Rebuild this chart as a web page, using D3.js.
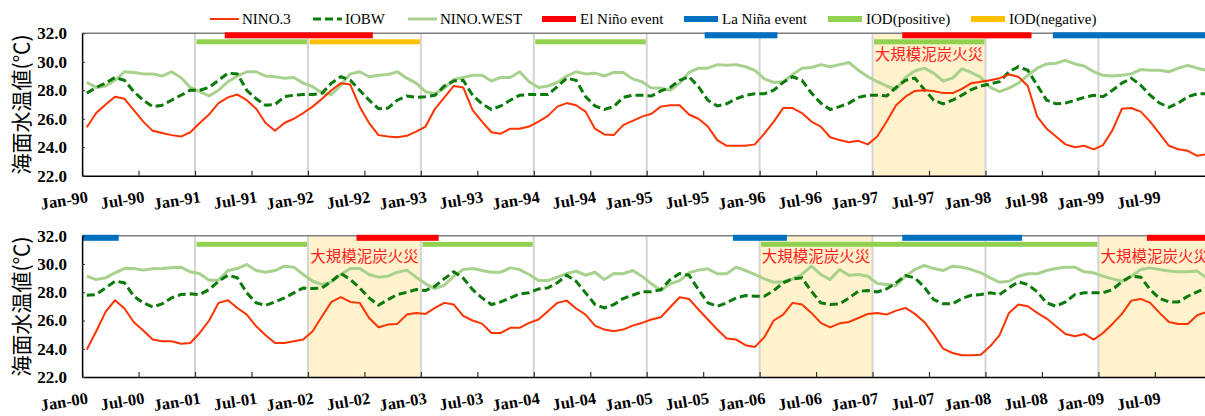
<!DOCTYPE html>
<html>
<head>
<meta charset="utf-8">
<script src="https://cdn.jsdelivr.net/npm/d3@7"></script>
<style>
  body { margin: 0; background: #fff; }
  svg { display: block; }
</style>
</head>
<body>
<div id="chart"></div>
<script>
// data //
// monthly SST, Jan-90 .. Dec-99
const nino3_90 = [
  25.4, 26.4, 27.0, 27.55, 27.4, 26.6, 25.8, 25.15, 25.0, 24.85, 24.75, 25.05,
  25.7, 26.3, 27.1, 27.5, 27.7, 27.3, 26.7, 25.7, 25.15, 25.7, 26.0, 26.4,
  26.85, 27.4, 28.0, 28.5, 28.4, 26.85, 25.7, 24.85, 24.75, 24.7, 24.8, 25.1,
  25.45, 26.7, 27.5, 28.3, 28.2, 26.6, 25.8, 25.05, 24.95, 25.3, 25.3, 25.45,
  25.8, 26.2, 26.85, 27.1, 26.95, 26.5, 25.3, 24.9, 24.85, 25.55, 25.85, 26.15,
  26.35, 26.85, 26.95, 26.95, 26.3, 26.0, 25.45, 24.5, 24.1, 24.1, 24.1, 24.2,
  24.95, 25.8, 26.75, 26.75, 26.4, 25.8, 25.45, 24.7, 24.5, 24.35, 24.45, 24.2,
  24.75, 25.8, 26.95, 27.55, 27.95, 28.0, 27.95, 27.8, 27.8, 28.1, 28.5, 28.6,
  28.7, 28.85, 29.1, 28.95, 28.3, 26.15, 25.3, 24.75, 24.2, 24.0, 24.1, 23.85,
  24.15, 25.2, 26.7, 26.75, 26.5, 25.8, 24.95, 24.1, 23.85, 23.75, 23.4, 23.5
];
const iobw_90 = [
  27.8, 28.2, 28.5, 28.9, 28.7, 27.9, 27.3, 26.85, 26.95, 27.3, 27.65, 28.0,
  28.0, 28.2, 28.7, 29.2, 29.15, 28.0, 27.4, 26.95, 27.0, 27.55, 27.65, 27.7,
  27.7, 27.8, 28.5, 28.95, 28.7, 28.0, 27.3, 26.7, 26.75, 27.3, 27.6, 27.5,
  27.55, 27.65, 28.3, 28.65, 28.7, 27.65, 27.05, 26.65, 26.9, 27.3, 27.65, 27.7,
  27.7, 27.7, 28.25, 28.85, 28.7, 27.55, 26.9, 26.65, 26.85, 27.5, 27.65, 27.65,
  27.6, 27.95, 28.2, 28.7, 28.95, 28.25, 27.3, 26.9, 27.05, 27.4, 27.65, 27.75,
  27.75, 28.0, 28.55, 28.95, 28.7, 27.8, 27.1, 26.65, 26.85, 27.1, 27.5, 27.65,
  27.65, 27.6, 28.2, 28.7, 28.85, 28.05, 27.3, 27.05, 27.3, 27.65, 28.05, 28.3,
  28.45, 28.6, 29.3, 29.65, 29.4, 28.35, 27.3, 27.05, 27.1, 27.3, 27.5, 27.65,
  27.55, 28.0, 28.5, 28.85, 28.35, 27.65, 27.1, 26.8, 27.1, 27.55, 27.75, 27.75
];
const ninoWest_90 = [
  28.55, 28.2, 28.3, 28.7, 29.3, 29.25, 29.15, 29.15, 29.0, 29.3, 28.9, 28.2,
  27.9, 27.6, 28.0, 28.6, 29.0, 29.3, 29.3, 29.0, 28.95, 28.85, 28.9, 28.5,
  28.25, 27.8, 27.7, 28.35, 29.15, 29.3, 28.95, 29.05, 29.1, 29.3, 28.85, 28.5,
  27.9, 27.75, 28.15, 28.75, 28.9, 29.05, 29.05, 28.65, 28.9, 28.9, 29.3, 28.6,
  28.2, 28.3, 28.55, 29.0, 29.3, 29.15, 29.2, 29.0, 29.25, 29.25, 28.8, 28.6,
  28.15, 28.15, 28.0, 28.5, 29.25, 29.55, 29.55, 29.8, 29.75, 29.8, 29.65, 29.4,
  28.8, 28.55, 28.6, 29.1, 29.55, 29.6, 29.8, 29.65, 29.8, 29.95, 29.4, 28.95,
  28.6, 28.3, 28.05, 28.9, 29.35, 29.55, 29.2, 28.65, 28.85, 29.5, 29.25, 28.9,
  28.2, 27.9, 28.15, 28.5, 29.05, 29.55, 29.85, 29.9, 30.1, 29.85, 29.7, 29.3,
  29.05, 29.0, 29.05, 29.15, 29.45, 29.4, 29.4, 29.3, 29.55, 29.75, 29.55, 29.4
];

// monthly SST, Jan-00 .. Dec-09
const nino3_00 = [
  23.94, 25.24, 26.61, 27.44, 26.85, 25.88, 25.29, 24.65, 24.53, 24.53, 24.36, 24.41,
  25.12, 26.0, 27.25, 27.44, 26.89, 26.42, 25.59, 24.96, 24.41, 24.41, 24.53, 24.65,
  25.24, 26.3, 27.32, 27.65, 27.32, 27.25, 26.18, 25.52, 25.71, 25.76, 26.42, 26.54,
  26.47, 26.89, 27.25, 27.13, 26.33, 26.0, 25.78, 25.12, 25.12, 25.48, 25.48, 25.83,
  26.07, 26.66, 27.25, 27.41, 26.85, 26.42, 25.64, 25.36, 25.24, 25.36, 25.64, 25.83,
  26.07, 26.23, 26.94, 27.65, 27.53, 26.78, 26.07, 25.36, 24.72, 24.65, 24.25, 24.13,
  24.81, 26.0, 26.42, 27.25, 27.13, 26.54, 25.83, 25.52, 25.8, 25.9, 26.18, 26.47,
  26.54, 26.42, 26.7, 26.89, 26.47, 25.9, 25.0, 24.01, 23.7, 23.54, 23.54, 23.58,
  24.17, 24.96, 26.54, 27.13, 27.01, 26.54, 26.14, 25.59, 25.05, 24.88, 25.05, 24.65,
  25.12, 25.76, 26.47, 27.41, 27.53, 27.25, 26.54, 25.9, 25.76, 25.76, 26.37, 26.61
];
const iobw_00 = [
  27.79, 27.84, 28.31, 28.78, 28.67, 27.72, 27.25, 26.96, 27.18, 27.6, 27.84, 27.89,
  27.84, 28.19, 28.78, 29.21, 29.02, 27.96, 27.25, 27.08, 27.32, 27.6, 27.96, 28.31,
  28.26, 28.31, 28.78, 29.33, 28.9, 28.31, 27.6, 27.08, 27.48, 27.84, 28.0, 28.19,
  28.12, 28.43, 28.97, 29.45, 29.0, 28.19, 27.6, 27.13, 27.32, 27.6, 27.89, 27.96,
  28.24, 28.31, 28.67, 29.21, 28.78, 27.96, 27.13, 26.89, 27.13, 27.56, 27.79, 28.03,
  28.03, 28.19, 28.9, 29.33, 29.21, 28.19, 27.25, 27.01, 27.25, 27.6, 27.77, 27.72,
  27.72, 28.12, 28.67, 28.95, 29.02, 28.08, 27.25, 27.13, 27.18, 27.6, 28.08, 28.12,
  28.03, 28.24, 28.67, 29.18, 29.02, 28.36, 27.48, 27.18, 27.18, 27.56, 27.79, 27.84,
  27.96, 27.84, 28.31, 28.74, 28.55, 28.03, 27.25, 27.01, 27.32, 27.84, 27.96, 27.96,
  27.96, 28.19, 28.74, 29.14, 29.07, 28.19, 27.56, 27.32, 27.32, 27.72, 28.03, 28.31
];
const ninoWest_00 = [
  29.14, 28.9, 29.02, 29.38, 29.68, 29.68, 29.57, 29.66, 29.68, 29.73, 29.78, 29.45,
  29.31, 28.86, 28.86, 29.54, 29.68, 29.97, 29.54, 29.42, 29.54, 29.85, 29.78, 29.26,
  28.78, 28.55, 28.74, 29.26, 29.68, 29.68, 29.26, 29.07, 29.14, 29.42, 29.57, 29.07,
  28.6, 28.26, 28.5, 29.14, 29.61, 29.68, 29.54, 29.42, 29.42, 29.73, 29.61, 29.26,
  28.83, 28.83, 29.07, 29.31, 29.5, 29.21, 29.42, 28.9, 29.33, 29.31, 29.54, 29.14,
  28.6, 28.12, 28.6, 28.83, 29.38, 29.57, 29.66, 29.31, 29.31, 29.78, 29.54, 29.26,
  28.95, 28.71, 28.74, 28.95, 29.26, 29.85, 29.26, 28.9, 29.61, 29.21, 29.26, 29.14,
  28.62, 28.55, 28.48, 29.14, 29.61, 29.9, 29.68, 29.54, 29.85, 29.78, 29.61, 29.38,
  29.02, 28.71, 28.78, 29.14, 29.31, 29.31, 29.54, 29.68, 29.78, 29.78, 29.45, 29.38,
  29.14, 28.95, 28.78, 29.14, 29.61, 29.73, 29.61, 29.5, 29.45, 29.45, 29.5, 29.02
];

// events: [start month, end month] counted from Jan of the decade
const elNino_90 = [[15, 31], [87, 101]];
const laNina_90 = [[66, 74], [103, 120]];
const iodPos_90 = [[12, 24], [48, 60], [84, 96]];
const iodNeg_90 = [[24, 36]];
const fire_90 = [[84, 96]];

const elNino_00 = [[29, 38], [113, 120]];
const laNina_00 = [[0, 4], [69, 75], [87, 100]];
const iodPos_00 = [[12, 24], [36, 48], [72, 108]];
const iodNeg_00 = [];
const fire_00 = [[24, 36], [72, 84], [108, 120]];

const xLabels_90 = ["Jan-90","Jul-90","Jan-91","Jul-91","Jan-92","Jul-92","Jan-93","Jul-93","Jan-94","Jul-94",
  "Jan-95","Jul-95","Jan-96","Jul-96","Jan-97","Jul-97","Jan-98","Jul-98","Jan-99","Jul-99"];
const xLabels_00 = ["Jan-00","Jul-00","Jan-01","Jul-01","Jan-02","Jul-02","Jan-03","Jul-03","Jan-04","Jul-04",
  "Jan-05","Jul-05","Jan-06","Jul-06","Jan-07","Jul-07","Jan-08","Jul-08","Jan-09","Jul-09"];
const yTicks = [22, 24, 26, 28, 30, 32];

const seriesNames = ["NINO.3", "IOBW", "NINO.WEST"];
const eventNames = ["El Niño event", "La Niña event", "IOD(positive)", "IOD(negative)"];
const fireLabel = "大規模泥炭火災";
const yTitle = "海面水温値(℃)";

// colours
const cNino3 = "#FF3300";
const cIobw = "#0A7A0A";
const cWest = "#A9D18E";
const cElNino = "#FF0000";
const cLaNina = "#0070C0";
const cIodPos = "#92D050";
const cIodNeg = "#FFC000";
const cFire = "#FFF2CC";

///set dimensions//////////////////////////////////////////////////
const W = 1205, H = 416;
const left = 82.1;
const right = left + 120 * 9.41;

const svg = d3.select("#chart").append("svg")
  .attr("width", W)
  .attr("height", H);

const x = d3.scaleLinear().domain([0, 120]).range([left, right]);

function drawPanel(top, bottom, d) {
  const y = d3.scaleLinear().domain([22, 32]).range([bottom, top]);
  const g = svg.append("g");

  // peat fire shading
  g.selectAll(".fire")
    .data(d.fire)
    .enter().append("rect")
    .attr("x", e => x(e[0]))
    .attr("y", top)
    .attr("width", e => x(e[1]) - x(e[0]))
    .attr("height", bottom - top)
    .attr("fill", cFire);

  // yearly gridlines
  g.selectAll(".grid")
    .data(d3.range(12, 120, 12))
    .enter().append("line")
    .attr("x1", m => x(m)).attr("x2", m => x(m))
    .attr("y1", top).attr("y2", bottom)
    .attr("stroke", "#D4D4D4")
    .attr("stroke-width", 2);

  // top border
  g.append("line")
    .attr("x1", left).attr("x2", right)
    .attr("y1", top).attr("y2", top)
    .attr("stroke", "#7F7F7F")
    .attr("stroke-width", 1.5);

  // event bars, row 0 = ENSO, row 1 = IOD
  const bars = [
    { list: d.elNino, color: cElNino, y0: top - 1, h: 6 },
    { list: d.laNina, color: cLaNina, y0: top - 1, h: 6 },
    { list: d.iodPos, color: cIodPos, y0: top + 6, h: 5 },
    { list: d.iodNeg, color: cIodNeg, y0: top + 6, h: 5 }
  ];
  bars.forEach(b => {
    g.selectAll(null)
      .data(b.list)
      .enter().append("rect")
      .attr("x", e => x(e[0]) + (e[0] > 0 ? 1.5 : 0))
      .attr("y", b.y0)
      .attr("width", e => x(e[1]) - x(e[0]) - (e[0] > 0 ? 2.5 : 1))
      .attr("height", b.h)
      .attr("fill", b.color);
  });

  // fire labels
  g.selectAll(".fireLabel")
    .data(d.fire)
    .enter().append("text")
    .attr("x", e => (x(e[0]) + x(e[1])) / 2)
    .attr("y", top + 26.5)
    .attr("text-anchor", "middle")
    .attr("fill", "#FF2020")
    .style("font-family", "'Noto Sans CJK JP', sans-serif")
    .style("font-size", "15.5px")
    .text(fireLabel);

  // lines
  const line = d3.line()
    .x((v, i) => x(i + 0.5))
    .y(v => y(v));

  g.append("path")
    .datum(d.west)
    .attr("fill", "none")
    .attr("stroke", cWest)
    .attr("stroke-width", 3)
    .attr("stroke-linejoin", "round")
    .attr("d", line);

  g.append("path")
    .datum(d.iobw)
    .attr("fill", "none")
    .attr("stroke", cIobw)
    .attr("stroke-width", 3)
    .attr("stroke-dasharray", "8,4")
    .attr("d", line);

  g.append("path")
    .datum(d.nino3)
    .attr("fill", "none")
    .attr("stroke", cNino3)
    .attr("stroke-width", 2)
    .attr("stroke-linejoin", "round")
    .attr("d", line);

  // X axis
  const xAxis = g.append("g")
    .attr("transform", `translate(0,${bottom})`)
    .call(d3.axisBottom(x)
      .tickValues(d3.range(0, 120, 6))
      .tickSizeInner(-5)
      .tickSizeOuter(0)
      .tickFormat((m, i) => d.labels[i]));
  xAxis.select(".domain").attr("stroke", "#000").attr("stroke-width", 1.5);
  xAxis.selectAll(".tick line").attr("stroke", "#333").attr("stroke-width", 1.2);
  xAxis.selectAll(".tick text")
    .attr("y", null)
    .attr("dy", null)
    .attr("text-anchor", "end")
    .attr("transform", "translate(6,26.5) rotate(-9)")
    .attr("fill", "#000")
    .style("font-family", "'Liberation Serif', 'Times New Roman', serif")
    .style("font-weight", "bold")
    .style("font-size", "16.5px");

  // Y axis
  const yAxis = g.append("g")
    .attr("transform", `translate(${left},0)`)
    .call(d3.axisLeft(y)
      .tickValues(yTicks)
      .tickSizeInner(-3)
      .tickSizeOuter(0)
      .tickPadding(15)
      .tickFormat(d3.format(".1f")));
  yAxis.select(".domain").attr("stroke", "#000").attr("stroke-width", 1.5);
  yAxis.selectAll(".tick line").attr("stroke", "#333");
  yAxis.selectAll(".tick text")
    .attr("fill", "#000")
    .style("font-family", "'Liberation Serif', 'Times New Roman', serif")
    .style("font-weight", "bold")
    .style("font-size", "17px");

  // Y label
  g.append("text")
    .attr("text-anchor", "middle")
    .attr("transform", `translate(29,${(top + bottom) / 2}) rotate(-90)`)
    .style("font-family", "'Noto Sans CJK JP', sans-serif")
    .style("font-size", "21px")
    .attr("fill", "#000")
    .text(yTitle);
}

drawPanel(33.3, 175.7, {
  nino3: nino3_90, iobw: iobw_90, west: ninoWest_90,
  elNino: elNino_90, laNina: laNina_90, iodPos: iodPos_90, iodNeg: iodNeg_90,
  fire: fire_90, labels: xLabels_90
});

drawPanel(235.8, 377, {
  nino3: nino3_00, iobw: iobw_00, west: ninoWest_00,
  elNino: elNino_00, laNina: laNina_00, iodPos: iodPos_00, iodNeg: iodNeg_00,
  fire: fire_00, labels: xLabels_00
});

// legend //
const legendY = 19;
const legendItems = [
  { name: seriesNames[0], x: 210, kind: "line", color: cNino3 },
  { name: seriesNames[1], x: 313, kind: "dash", color: cIobw },
  { name: seriesNames[2], x: 408, kind: "line3", color: cWest },
  { name: eventNames[0], x: 542, kind: "bar", color: cElNino },
  { name: eventNames[1], x: 684, kind: "bar", color: cLaNina },
  { name: eventNames[2], x: 828, kind: "bar", color: cIodPos },
  { name: eventNames[3], x: 971, kind: "bar", color: cIodNeg }
];

const legend = svg.append("g");
legendItems.forEach(it => {
  const lg = legend.append("g").attr("transform", `translate(${it.x},${legendY})`);
  if (it.kind === "bar") {
    lg.append("rect")
      .attr("x", 0).attr("y", -3)
      .attr("width", 34).attr("height", 6)
      .attr("fill", it.color);
  } else {
    lg.append("line")
      .attr("x1", 0).attr("x2", 29)
      .attr("y1", 0).attr("y2", 0)
      .attr("stroke", it.color)
      .attr("stroke-width", it.kind === "line" ? 2 : 3)
      .attr("stroke-dasharray", it.kind === "dash" ? "8,4" : null);
  }
  lg.append("text")
    .attr("x", it.kind === "bar" ? 38 : 32)
    .attr("y", 5)
    .style("font-family", "'Liberation Serif', 'Times New Roman', serif")
    .style("font-size", "15px")
    .attr("fill", "#000")
    .text(it.name);
});
</script>
</body>
</html>
